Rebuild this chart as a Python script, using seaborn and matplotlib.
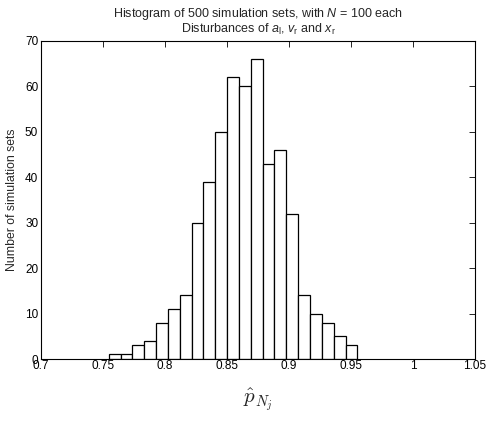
import matplotlib
matplotlib.use('Agg')
import matplotlib.pyplot as plt
import numpy as np
import pandas as pd
import seaborn as sns

# Data
bin_start = 0.7546
bin_end = 0.9551
counts = [1, 1, 3, 4, 8, 11, 14, 30, 39, 50, 62, 60, 66, 43, 46, 32, 14, 10, 8, 5, 3]
x_ticks = [0.7, 0.75, 0.8, 0.85, 0.9, 0.95, 1.0, 1.05]
x_ticklabels = ['0.7', '0.75', '0.8', '0.85', '0.9', '0.95', '1', '1.05']
y_ticks = [0, 10, 20, 30, 40, 50, 60, 70]

edges = np.linspace(bin_start, bin_end, len(counts) + 1)
df = pd.DataFrame({'center': (edges[:-1] + edges[1:]) / 2, 'count': counts})

sns.set_style("white")
plt.rcParams['font.family'] = ['Liberation Sans', 'DejaVu Sans']
plt.rcParams['mathtext.fontset'] = 'custom'
plt.rcParams['mathtext.rm'] = 'Liberation Sans'
plt.rcParams['mathtext.it'] = 'Liberation Sans:italic'

fig = plt.figure(figsize=(4.91, 4.23), dpi=100)
ax = fig.add_axes([0.0835, 0.1513, 0.884, 0.7518])

sns.histplot(data=df, x='center', weights='count', bins=list(edges), ax=ax,
             color='white', edgecolor='black', linewidth=0.9, alpha=1)

ax.set_xlim(0.7, 1.05)
ax.set_ylim(0, 70)
ax.set_xticks(x_ticks)
ax.set_xticklabels(x_ticklabels)
ax.set_yticks(y_ticks)
ax.tick_params(direction='in', length=4, width=0.6, labelsize=8.5, top=True, right=True,
               pad=2, colors='black')
ax.tick_params(axis='x', pad=1)
for s in ax.spines.values():
    s.set_color('black')
    s.set_linewidth(0.8)

ax.set_ylabel('Number of simulation sets', fontsize=8.8, labelpad=5)
ax.set_xlabel(r'$\hat{p}_{N_j}$', fontsize=15, math_fontfamily='cm', labelpad=10)
ax.set_title('Histogram of 500 simulation sets, with $N$ = 100 each\n'
             r'Disturbances of $a_\mathrm{l}$, $v_\mathrm{r}$ and $x_\mathrm{r}$',
             fontsize=9, pad=6, linespacing=0.95)

fig.savefig('out.png', dpi=100)
